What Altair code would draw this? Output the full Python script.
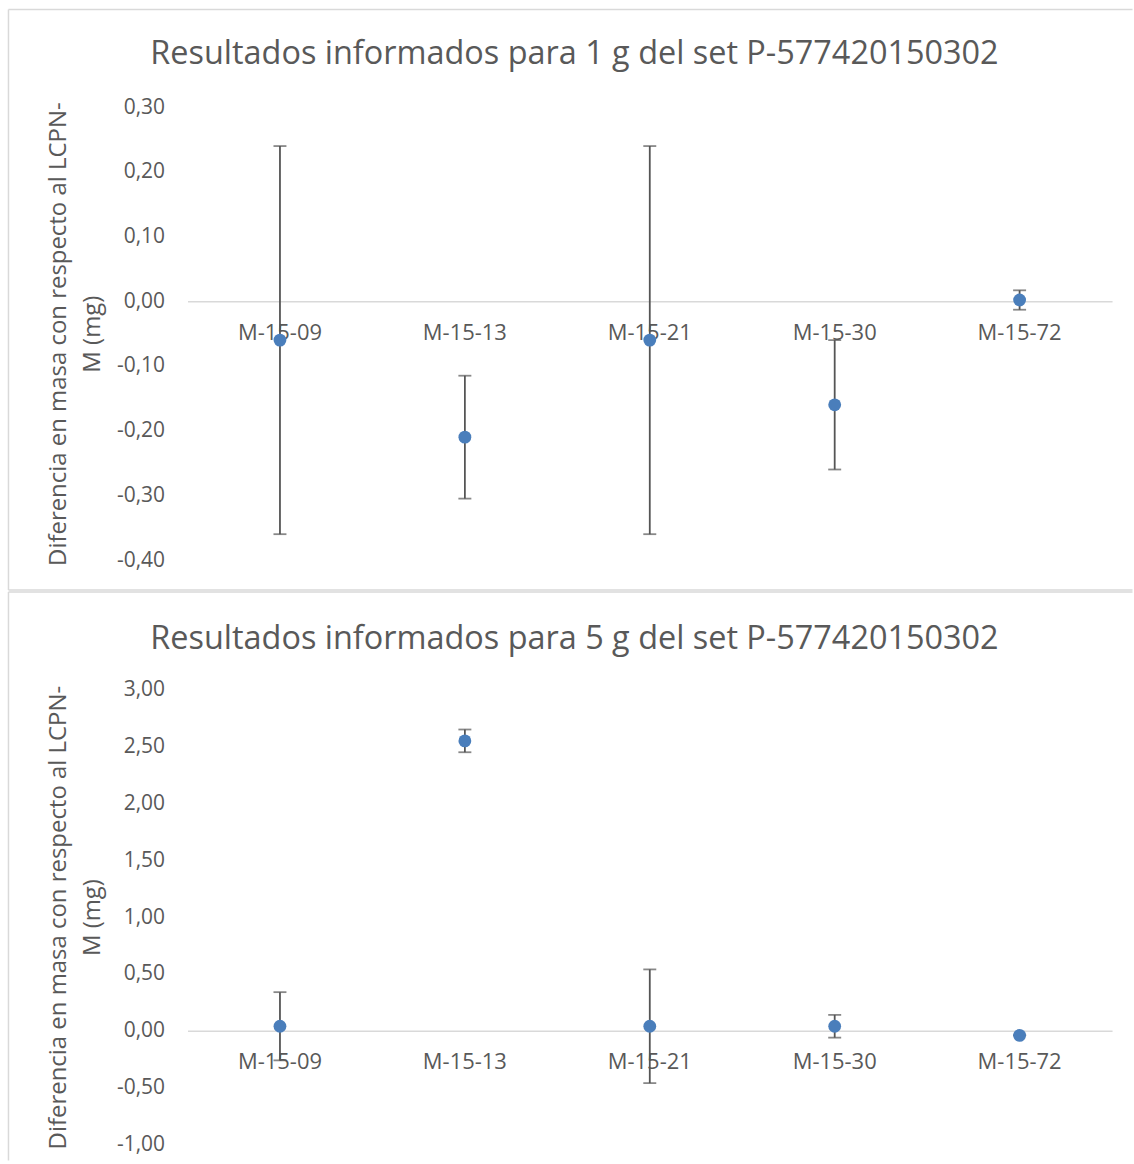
import altair as alt
import pandas as pd

categories = ["M-15-09", "M-15-13", "M-15-21", "M-15-30", "M-15-72"]

# Panel 1 (1 g)
values_1g = [-0.06, -0.21, -0.06, -0.16, 0.002]
errors_1g = [0.30, 0.095, 0.30, 0.10, 0.015]
ticks_1g = [-0.4, -0.3, -0.2, -0.1, 0.0, 0.1, 0.2, 0.3]

# Panel 2 (5 g)
values_5g = [0.04, 2.55, 0.04, 0.04, -0.04]
errors_5g = [0.30, 0.10, 0.50, 0.10, 0.0]
ticks_5g = [-1.0, -0.5, 0.0, 0.5, 1.0, 1.5, 2.0, 2.5, 3.0]

title_1g = "Resultados informados para 1 g del set P-577420150302"
title_5g = "Resultados informados para 5 g del set P-577420150302"
y_title = ["Diferencia en masa con respecto al LCPN-", "M (mg)"]

FONT = "Open Sans"
TXT = "#595959"
GRID = "#d9d9d9"
PT = "#4a7ebb"
ERR = "#555555"

PLOT_W = 927
LABEL_EXPR = "replace(replace(format(datum.value, '.2f'), '.', ','), '\u2212', '-')"


def panel(values, errors, ticks, domain, height, title, frame_top, frame_bottom, title_y, top_rule):
    df = pd.DataFrame({
        "cat": categories,
        "v": values,
        "lo": [v - e for v, e in zip(values, errors)],
        "hi": [v + e for v, e in zip(values, errors)],
    })
    zero_off = -(height * (0 - domain[0]) / (domain[1] - domain[0]))
    x = alt.X("cat:N", sort=categories,
              scale=alt.Scale(type="band", paddingInner=0, paddingOuter=0),
              axis=alt.Axis(title=None, labelAngle=0, ticks=False, tickSize=0,
                            labelFontSize=22, labelFont=FONT, labelColor=TXT,
                            labelAlign="center",
                            labelPadding=31, labelBaseline="middle",
                            domainColor=GRID, domainWidth=1.5, offset=zero_off,
                            grid=False))
    yscale = alt.Scale(domain=domain, nice=False, zero=False)
    y = alt.Y("v:Q", scale=yscale,
              axis=alt.Axis(values=ticks, labelExpr=LABEL_EXPR, grid=False,
                            domain=False, ticks=False, tickSize=0,
                            labelFontSize=21, labelFont=FONT, labelColor=TXT,
                            labelPadding=23,
                            title=y_title, titleFont=FONT, titleFontSize=24,
                            titleFontWeight="normal", titleColor=TXT,
                            titlePadding=12, titleLineHeight=34))
    base = alt.Chart(df)
    pts = base.mark_point(filled=True, size=165, opacity=1, color=PT).encode(x=x, y=y)
    bars = base.mark_rule(color=ERR, strokeWidth=1.8).encode(
        x=alt.X("cat:N", sort=categories), y=alt.Y("lo:Q", scale=yscale), y2="hi:Q")
    cap_lo = base.mark_tick(color=ERR, size=13, thickness=1.8).encode(
        x=alt.X("cat:N", sort=categories), y=alt.Y("lo:Q", scale=yscale))
    cap_hi = base.mark_tick(color=ERR, size=13, thickness=1.8).encode(
        x=alt.X("cat:N", sort=categories), y=alt.Y("hi:Q", scale=yscale))

    one = pd.DataFrame({"t": [title]})
    ttl = alt.Chart(one).mark_text(font=FONT, fontSize=32.5, color=TXT,
                                   align="center", baseline="alphabetic").encode(
        text="t:N", x=alt.value(388), y=alt.value(title_y))
    left = -179.5
    right = 1134 - 186.5
    frame_l = alt.Chart(one).mark_rule(color=GRID, strokeWidth=1.5).encode(
        x=alt.value(left), y=alt.value(frame_top), y2=alt.value(frame_bottom))
    frame_t = alt.Chart(one).mark_rule(color=GRID, strokeWidth=1.5).encode(
        x=alt.value(left), x2=alt.value(right), y=alt.value(frame_top))
    layers = [frame_l, frame_t]
    if top_rule:
        frame_b = alt.Chart(one).mark_rule(color=GRID, strokeWidth=1.5).encode(
            x=alt.value(left), x2=alt.value(right), y=alt.value(frame_bottom))
        layers.append(frame_b)
    layers += [ttl, bars, cap_lo, cap_hi, pts]
    return alt.layer(*layers).properties(width=PLOT_W, height=height)


p1 = panel(values_1g, errors_1g, ticks_1g, [-0.4, 0.3], 454, title_1g,
           -98, 589 - 105, -43, True)
p2 = panel(values_5g, errors_5g, ticks_5g, [-1.0, 3.0], 456, title_5g,
           -98, 1164 - 692, -41, False)

chart = alt.vconcat(p1, p2, spacing=0).properties(
    padding={"left": 7, "top": 7, "right": 0, "bottom": 0},
    background="white",
).configure_view(stroke=None)

chart.save("out.html", embed_options={"renderer": "svg", "actions": False})
